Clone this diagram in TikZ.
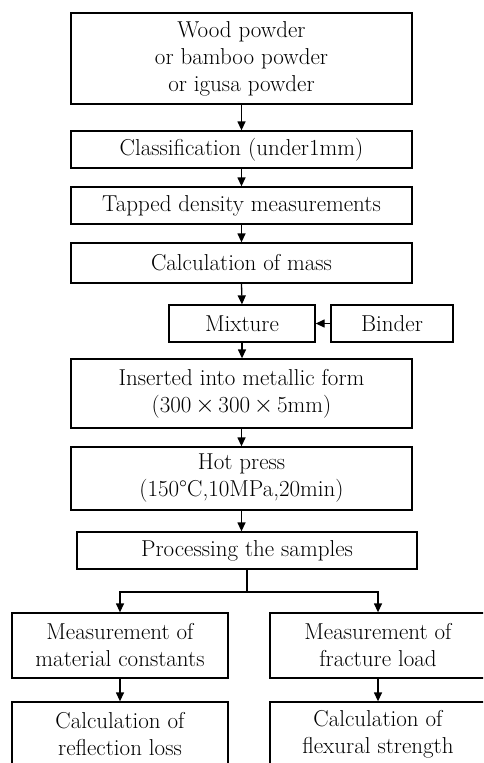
\documentclass[tikz,border=0pt]{standalone}
\usepackage{fontspec}
\usetikzlibrary{arrows.meta}

\tikzset{
  stepbox/.style={draw, line width=1.3pt, align=center, inner sep=0pt},
  flow/.style={-{Triangle[length=9pt,width=8pt]}, line width=1.3pt},
}

\begin{document}
\begin{tikzpicture}[x=1pt,y=-1pt, font=\fontsize{23}{27}\selectfont]
\useasboundingbox (0,0) rectangle (483,763);
\clip (0,0) rectangle (483,763);
% main column
\node[stepbox, minimum width=341pt, minimum height=91pt] (powder) at (241.5,58.5) {Wood powder\\or bamboo powder\\or igusa powder};
\node[stepbox, minimum width=341pt, minimum height=37pt] (classif) at (241.5,149.5) {Classification (under1mm)};
\node[stepbox, minimum width=341pt, minimum height=37pt] (tapped) at (241.5,205.5) {Tapped density measurements};
\node[stepbox, minimum width=341pt, minimum height=40pt] (mass) at (241.5,263) {Calculation of mass};
\node[stepbox, minimum width=146pt, minimum height=37pt] (mixture) at (242,323.5) {Mixture};
\node[stepbox, minimum width=122pt, minimum height=37pt] (binder) at (392,323.5) {Binder};
\node[stepbox, minimum width=341pt, minimum height=69pt] (mould) at (241.5,393.5) {Inserted into metallic form\\(300\,$\times$\,300\,$\times$\,5mm)};
\node[stepbox, minimum width=341pt, minimum height=63pt] (press) at (241.5,478.5) {Hot press\\(150°C,10MPa,20min)};
\node[stepbox, minimum width=340pt, minimum height=37pt] (samples) at (247,550.5) {Processing the samples};
% two branches
\node[stepbox, minimum width=216pt, minimum height=65pt] (matconst) at (120,645.5) {Measurement of\\material constants};
\node[stepbox, minimum width=216pt, minimum height=65pt] (fracload) at (378,645.5) {Measurement of\\fracture load};
\node[stepbox, minimum width=216pt, minimum height=65pt] (reflloss) at (120,734.5) {Calculation of\\reflection loss};
\node[stepbox, minimum width=216pt, minimum height=65pt] (flexstr) at (378,734.5) {Calculation of\\flexural strength};
\coordinate (split) at (247,592);

\draw[flow] (powder) -- (classif);
\draw[flow] (classif) -- (tapped);
\draw[flow] (tapped) -- (mass);
\draw[flow] (mass.south) -- (mixture.north);
\draw[flow] (binder) -- (mixture);
\draw[flow] (mixture.south) -- (mould.north -| mixture.south);
\draw[flow] (mould) -- (press);
\draw[flow] (press.south) -- (press.south |- samples.north);
\draw[line width=1.3pt] (samples.south) -- (split);
\draw[flow] (split) -| (matconst.north);
\draw[flow] (split) -| (fracload.north);
\draw[flow] (matconst) -- (reflloss);
\draw[flow] (fracload) -- (flexstr);
\end{tikzpicture}
\end{document}
